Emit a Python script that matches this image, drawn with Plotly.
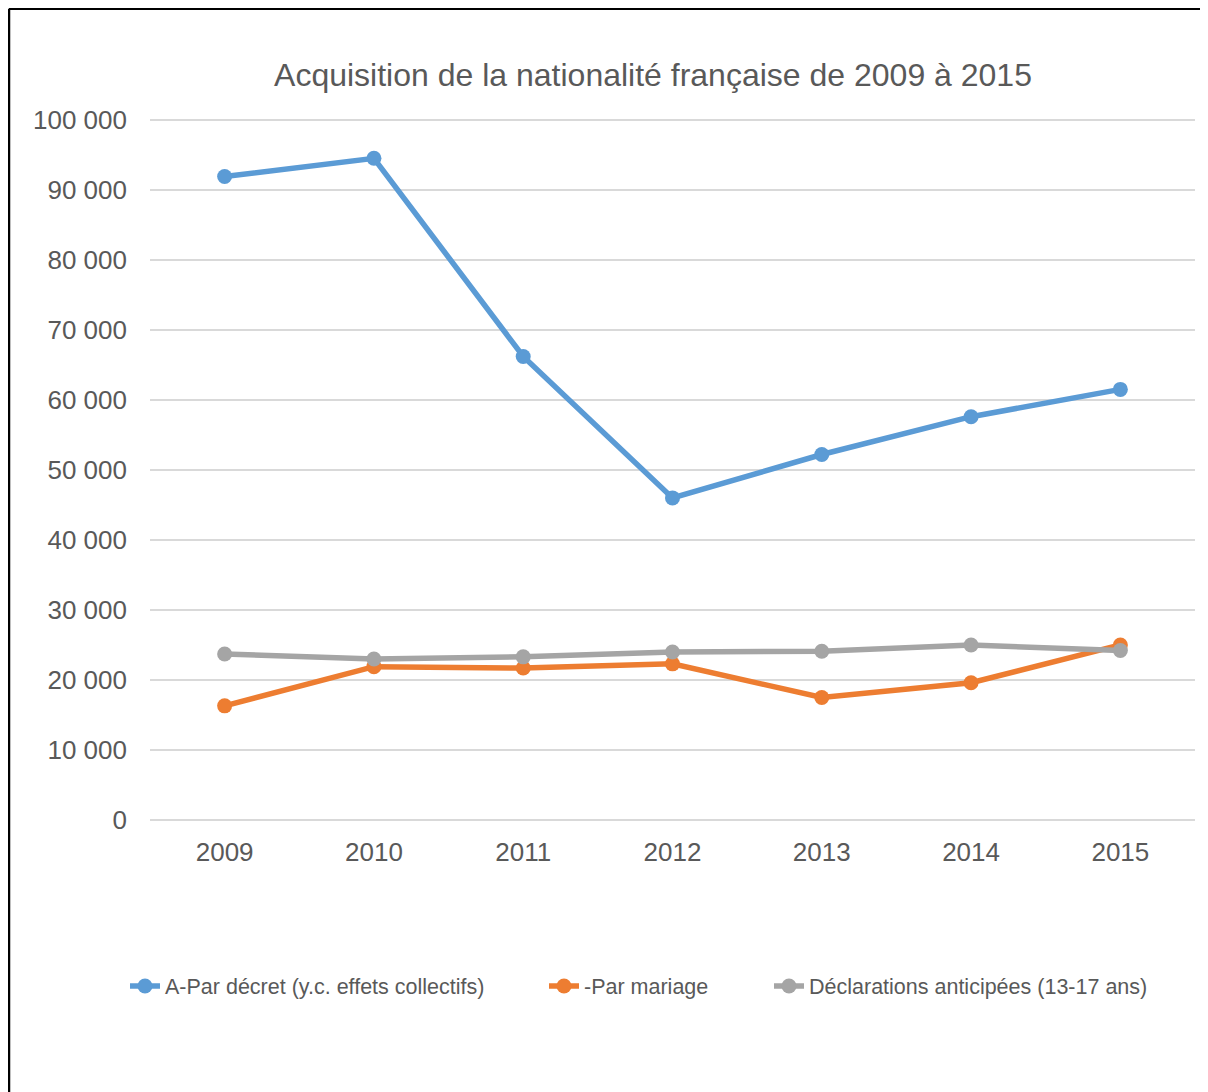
import plotly.graph_objects as go

years = ["2009", "2010", "2011", "2012", "2013", "2014", "2015"]
decret = [91900, 94500, 66200, 46000, 52200, 57600, 61500]
mariage = [16300, 21900, 21700, 22300, 17500, 19600, 25000]
declarations = [23700, 23000, 23300, 24000, 24100, 25000, 24200]

series_names = [
    "A-Par décret (y.c. effets collectifs)",
    "-Par mariage",
    "Déclarations anticipées (13-17 ans)",
]
colors = ["#5b9bd5", "#ed7d31", "#a5a5a5"]
y_ticks = list(range(0, 100001, 10000))
y_tick_text = ["0" if v == 0 else f"{v:,}".replace(",", " ") for v in y_ticks]

# page has an 8px body margin: figure origin sits at (8, 8)
OFF = 8
W, H = 1200, 1084
PLOT_L, PLOT_R, PLOT_B = 150 - OFF, 1195 - OFF, 820 - OFF
PX_PER_UNIT = 700 / 100000
Y_TOP = 100400
PH = Y_TOP * PX_PER_UNIT
ML, MR = PLOT_L, W - PLOT_R
MB = H - PLOT_B
MT = PLOT_B - PH
PW = PLOT_R - PLOT_L

def px_to_paper_x(px):
    return (px - OFF - ML) / PW

def px_to_paper_y(py):
    return (PLOT_B - (py - OFF)) / PH

fig = go.Figure()
legend_ids = ["legend", "legend2", "legend3"]
for name, vals, col, lg in zip(series_names, [decret, mariage, declarations], colors, legend_ids):
    fig.add_trace(go.Scatter(
        x=years, y=vals, name=name, mode="lines+markers",
        line=dict(color=col, width=5.5),
        marker=dict(color=col, size=15),
        legend=lg,
    ))

font = "Liberation Sans, Arial, sans-serif"
legend_text_starts = [166, 585, 810]
legend_common = dict(orientation="h", xanchor="left", yanchor="middle",
                     y=px_to_paper_y(986),
                     font=dict(size=21.5, color="#595959", family=font),
                     bgcolor="rgba(0,0,0,0)")
legends = {}
for lg, ts in zip(legend_ids, legend_text_starts):
    legends[lg] = dict(legend_common, x=px_to_paper_x(ts - 41))

fig.update_layout(
    width=W, height=H,
    margin=dict(l=ML, r=MR, t=MT, b=MB, autoexpand=False),
    paper_bgcolor="white", plot_bgcolor="white",
    font=dict(family=font, color="#595959"),
    title=dict(text="Acquisition de la nationalité française de 2009 à 2015",
               x=(653 - OFF) / W, xanchor="center", xref="container",
               y=1 - (75 - OFF) / H, yanchor="middle", yref="container",
               font=dict(size=32, color="#595959", family=font)),
    xaxis=dict(type="category", range=[-0.5, 6.5], showgrid=False,
               showline=False, ticks="", tickfont=dict(size=26, color="#595959"),
               ticklabelstandoff=14),
    yaxis=dict(range=[0, Y_TOP], tickvals=y_ticks, ticktext=y_tick_text,
               showgrid=True, gridcolor="#d9d9d9", gridwidth=1.5,
               zeroline=True, zerolinecolor="#d9d9d9", zerolinewidth=1.5,
               showline=False, ticks="", tickfont=dict(size=26, color="#595959"),
               ticklabelstandoff=22),
    showlegend=True,
    shapes=[
        dict(type="line", xref="paper", yref="paper",
             x0=px_to_paper_x(9), x1=px_to_paper_x(9),
             y0=px_to_paper_y(9), y1=px_to_paper_y(1100),
             line=dict(color="black", width=2.5)),
        dict(type="line", xref="paper", yref="paper",
             x0=px_to_paper_x(9), x1=px_to_paper_x(1220),
             y0=px_to_paper_y(9), y1=px_to_paper_y(9),
             line=dict(color="black", width=2.5)),
    ],
    **legends,
)
fig.write_html("out.html")
